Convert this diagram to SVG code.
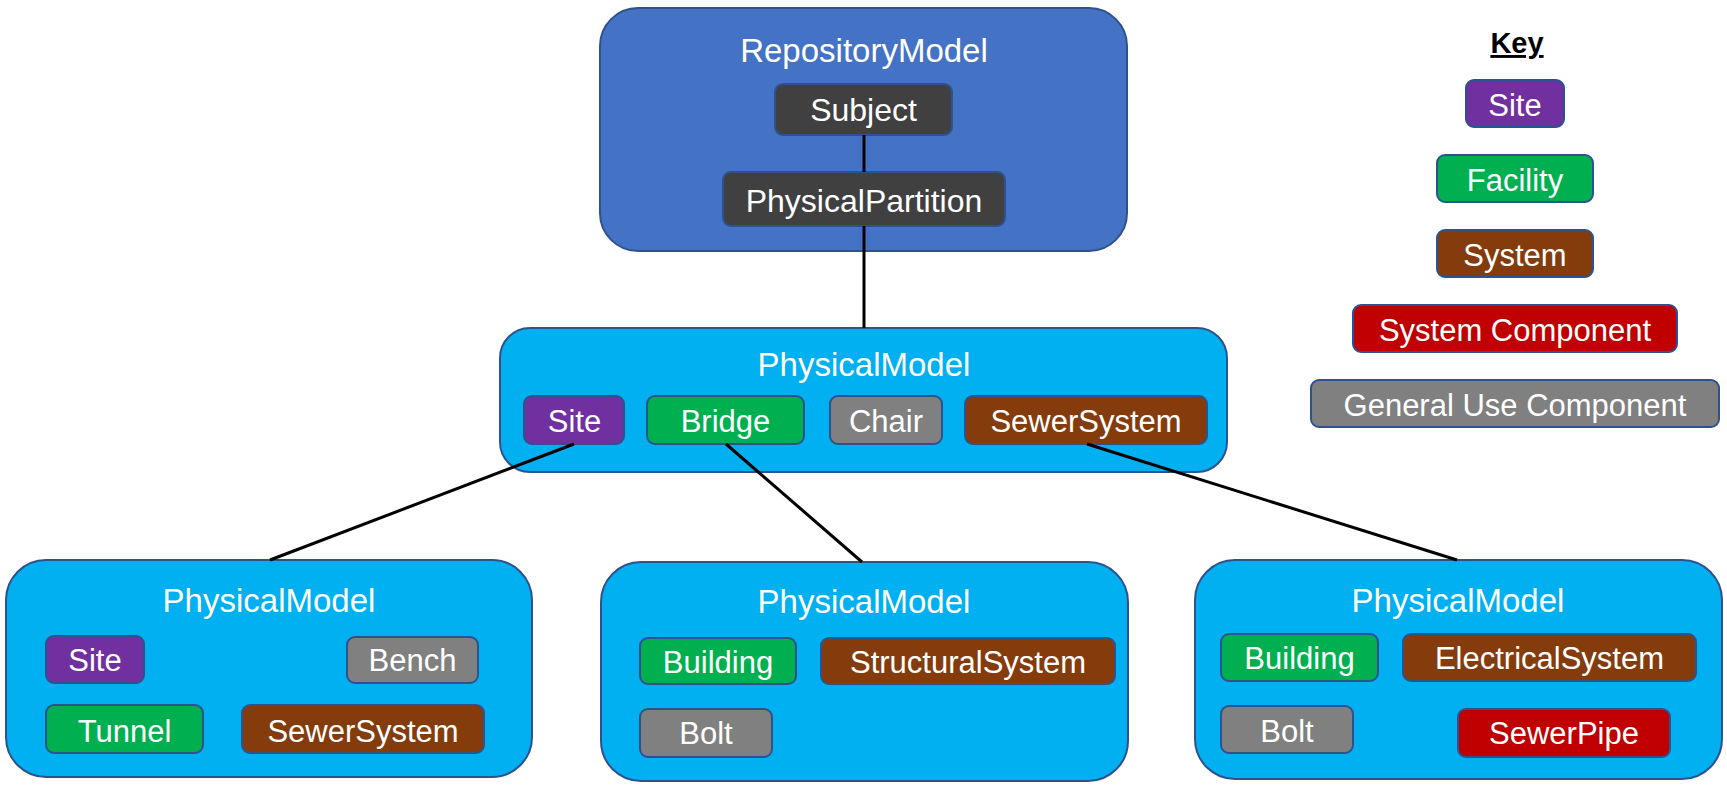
<svg xmlns="http://www.w3.org/2000/svg" width="1727" height="791" viewBox="0 0 1727 791">
<style>
.repo{fill:#4472C4;stroke:#2F528F;stroke-width:2}
.pm{fill:#00B0F0;stroke:#2F528F;stroke-width:2}
.b{stroke:#2F528F;stroke-width:2}
.dark{fill:#404040}
.site{fill:#7030A0}
.fac{fill:#00B050}
.sys{fill:#843C0C}
.comp{fill:#C00000}
.gen{fill:#808080}
text{font-family:"Liberation Sans",Arial,sans-serif;fill:#fff;text-anchor:middle}
.t{font-size:33px}
.l{font-size:31px}
.k{font-size:29px;font-weight:bold;fill:#000;text-decoration:underline}
.c{stroke:#000;stroke-width:3;fill:none}
</style>
<g id="repository-model">
<rect class="repo" x="600" y="8" width="527" height="243" rx="38"/>
<text class="t" x="864" y="62">RepositoryModel</text>
</g>
<g id="subject">
<rect class="dark b" x="775" y="84" width="177" height="51" rx="8"/>
<text class="l" x="863.5" y="121" style="font-size:32px">Subject</text>
</g>
<g id="physical-partition">
<rect class="dark b" x="723" y="172" width="282" height="54" rx="8"/>
<text class="l" x="864" y="211.5" style="font-size:32px">PhysicalPartition</text>
</g>
<g id="physical-model-top">
<rect class="pm" x="500" y="328" width="727" height="144" rx="30"/>
<text class="t" x="864" y="376">PhysicalModel</text>
<rect class="site b" x="524" y="396" width="100" height="48" rx="8"/>
<text class="l" x="574.5" y="432">Site</text>
<rect class="fac b" x="647" y="396" width="157" height="48" rx="8"/>
<text class="l" x="725.5" y="432">Bridge</text>
<rect class="gen b" x="830" y="396" width="112" height="48" rx="8"/>
<text class="l" x="886" y="432">Chair</text>
<rect class="sys b" x="965" y="396" width="242" height="48" rx="8"/>
<text class="l" x="1086" y="432">SewerSystem</text>
</g>
<g id="physical-model-left">
<rect class="pm" x="6" y="560" width="526" height="217" rx="40"/>
<text class="t" x="269" y="612">PhysicalModel</text>
<rect class="site b" x="46" y="636" width="98" height="47" rx="8"/>
<text class="l" x="95" y="671">Site</text>
<rect class="gen b" x="347" y="637" width="131" height="46" rx="8"/>
<text class="l" x="412.5" y="671">Bench</text>
<rect class="fac b" x="46" y="705" width="157" height="48" rx="8"/>
<text class="l" x="124.5" y="741.5">Tunnel</text>
<rect class="sys b" x="242" y="705" width="242" height="48" rx="8"/>
<text class="l" x="363" y="741.5">SewerSystem</text>
</g>
<g id="physical-model-center">
<rect class="pm" x="601" y="562" width="527" height="219" rx="40"/>
<text class="t" x="864" y="613">PhysicalModel</text>
<rect class="fac b" x="640" y="638" width="156" height="46" rx="8"/>
<text class="l" x="718" y="673">Building</text>
<rect class="sys b" x="821" y="638" width="294" height="46" rx="8"/>
<text class="l" x="968" y="673">StructuralSystem</text>
<rect class="gen b" x="640" y="709" width="132" height="48" rx="8"/>
<text class="l" x="706" y="744">Bolt</text>
</g>
<g id="physical-model-right">
<rect class="pm" x="1195" y="560" width="527" height="219" rx="40"/>
<text class="t" x="1458" y="611.5">PhysicalModel</text>
<rect class="fac b" x="1221" y="634" width="157" height="47" rx="8"/>
<text class="l" x="1299.5" y="669">Building</text>
<rect class="sys b" x="1403" y="634" width="293" height="47" rx="8"/>
<text class="l" x="1549.5" y="669">ElectricalSystem</text>
<rect class="gen b" x="1221" y="706" width="132" height="47" rx="8"/>
<text class="l" x="1287" y="741.5">Bolt</text>
<rect class="comp b" x="1458" y="709" width="212" height="48" rx="8"/>
<text class="l" x="1564" y="744">SewerPipe</text>
</g>
<g id="key">
<text class="k" x="1517" y="53">Key</text>
<rect class="site b" x="1466" y="80" width="98" height="47" rx="8"/>
<text class="l" x="1515" y="115.5">Site</text>
<rect class="fac b" x="1437" y="155" width="156" height="47" rx="8"/>
<text class="l" x="1515" y="190.5">Facility</text>
<rect class="sys b" x="1437" y="230" width="156" height="47" rx="8"/>
<text class="l" x="1515" y="265.5">System</text>
<rect class="comp b" x="1353" y="305" width="324" height="47" rx="8"/>
<text class="l" x="1515" y="340.5">System Component</text>
<rect class="gen b" x="1311" y="380" width="408" height="47" rx="8"/>
<text class="l" x="1515" y="415.5">General Use Component</text>
</g>
<g id="connectors">
<line class="c" x1="864" y1="135" x2="864" y2="172"/>
<line class="c" x1="864" y1="226" x2="864" y2="328"/>
<line class="c" x1="574" y1="444" x2="270" y2="560"/>
<line class="c" x1="726" y1="444" x2="862" y2="562"/>
<line class="c" x1="1087" y1="444" x2="1457" y2="560"/>
</g>
</svg>
